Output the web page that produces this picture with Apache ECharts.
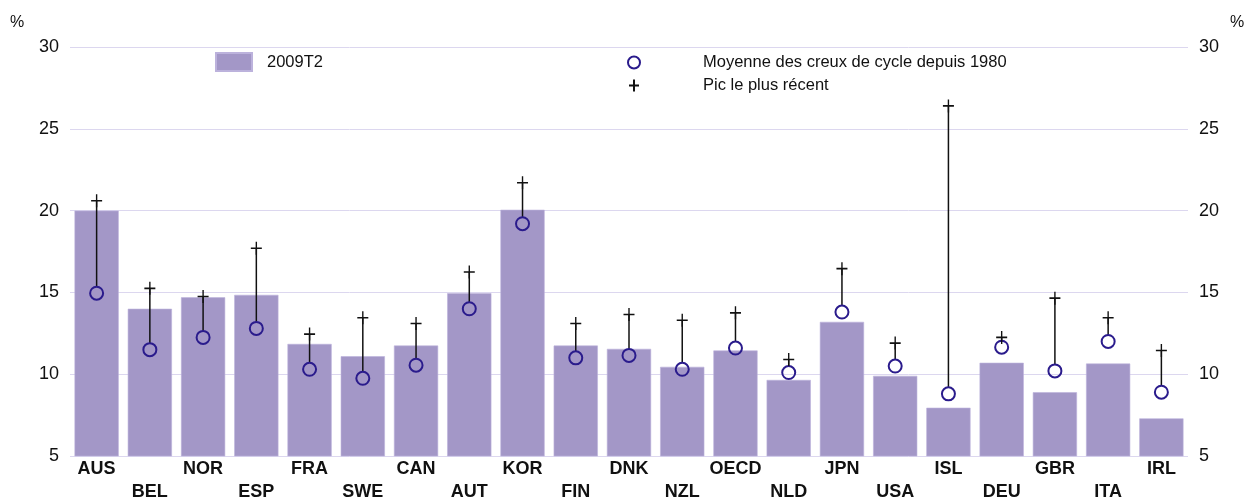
<!DOCTYPE html>
<html>
<head>
<meta charset="utf-8">
<script src="https://cdn.jsdelivr.net/npm/echarts@6/dist/echarts.min.js"></script>
<style>
  html, body { margin: 0; padding: 0; background: #fff; }
  #chart { width: 1250px; height: 499px; }
</style>
</head>
<body>
<div id="chart"></div>
<script>
var countries = ['AUS', 'BEL', 'NOR', 'ESP', 'FRA', 'SWE', 'CAN', 'AUT', 'KOR', 'FIN', 'DNK',
  'NZL', 'OECD', 'NLD', 'JPN', 'USA', 'ISL', 'DEU', 'GBR', 'ITA', 'IRL'];
// 2009T2
var current = [20.0, 14.0, 14.7, 14.85, 11.85, 11.1, 11.75, 14.95, 20.05, 11.75, 11.55,
  10.45, 11.45, 9.65, 13.2, 9.9, 7.95, 10.7, 8.9, 10.65, 7.3];
// moyenne des creux
var troughs = [14.95, 11.5, 12.25, 12.8, 10.3, 9.75, 10.55, 14.0, 19.2, 11.0, 11.15,
  10.3, 11.6, 10.1, 13.8, 10.5, 8.8, 11.65, 10.2, 12.0, 8.9];
// pic le plus récent
var peaks = [20.6, 15.25, 14.75, 17.7, 12.45, 13.45, 13.1, 16.25, 21.7, 13.1, 13.65,
  13.3, 13.75, 10.9, 16.45, 11.9, 26.4, 12.25, 14.65, 13.45, 11.45];
var yTicks = [5, 10, 15, 20, 25, 30];

var font = 'Liberation Sans, Arial, Helvetica, sans-serif';
var chart = echarts.init(document.getElementById('chart'));

var rangeData = countries.map(function(c, i) {
  return [i, troughs[i], peaks[i]];
});

var yAxisCommon = {
  type: 'value',
  min: yTicks[0],
  max: yTicks[yTicks.length - 1],
  interval: 5,
  axisLine: { show: false },
  axisTick: { show: false },
  splitLine: { lineStyle: { color: '#dcd7ef', width: 1 } },
  axisLabel: { color: '#111', fontSize: 18, fontFamily: font, margin: 11 }
};

var option = {
  animation: false,
  backgroundColor: '#fff',
  grid: { left: 70, right: 62, top: 47, bottom: 43, outerBoundsMode: 'none', containLabel: false },
  graphic: [
    { type: 'text', left: 10, top: 15, style: { text: '%', fontSize: 16, fontFamily: font, fill: '#111' } },
    { type: 'text', left: 1230, top: 15, style: { text: '%', fontSize: 16, fontFamily: font, fill: '#111' } }
  ],
  legend: [{
    data: ['2009T2'],
    icon: 'rect',
    left: 215,
    top: 52,
    padding: 0,
    itemWidth: 36,
    itemHeight: 18,
    textStyle: { fontSize: 16.5, fontFamily: font, color: '#111', padding: [0, 0, 0, 10] }
  }, {
    data: ['Moyenne des creux de cycle depuis 1980', 'Pic le plus récent'],
    orient: 'vertical',
    left: 627,
    top: 54,
    padding: 0,
    itemGap: 6,
    itemWidth: 16,
    itemHeight: 12,
    textStyle: { fontSize: 16.5, fontFamily: font, color: '#111', padding: [0, 0, 0, 56] }
  }],
  xAxis: {
    type: 'category',
    data: countries,
    axisLine: { show: false },
    axisTick: { show: false },
    axisLabel: {
      interval: 0,
      fontSize: 18,
      fontWeight: 'bold',
      fontFamily: font,
      color: '#111',
      margin: 2,
      lineHeight: 23,
      formatter: function(v, i) {
        return i % 2 === 1 ? '\n' + v : v;
      }
    }
  },
  yAxis: [
    Object.assign({ position: 'left' }, yAxisCommon),
    Object.assign({ position: 'right' }, yAxisCommon, { splitLine: { show: false } })
  ],
  series: [{
    name: '2009T2',
    type: 'bar',
    data: current,
    barCategoryGap: '17%',
    itemStyle: { color: '#a397c7', borderColor: '#bcb2dc', borderWidth: 0.6 },
    z: 1
  }, {
    name: 'range',
    type: 'custom',
    data: rangeData,
    silent: true,
    z: 3,
    renderItem: function(params, api) {
      var lo = api.coord([api.value(0), api.value(1)]);
      var hi = api.coord([api.value(0), api.value(2)]);
      return {
        type: 'line',
        shape: { x1: lo[0], y1: lo[1] - 6.5, x2: hi[0], y2: hi[1] },
        style: { stroke: '#111', lineWidth: 1.5 }
      };
    }
  }, {
    name: 'Moyenne des creux de cycle depuis 1980',
    type: 'scatter',
    data: troughs,
    symbol: 'circle',
    symbolSize: 13,
    itemStyle: { color: 'rgba(0,0,0,0)', borderColor: '#2a1b8c', borderWidth: 2, opacity: 1 },
    z: 4
  }, {
    name: 'Pic le plus récent',
    type: 'scatter',
    data: peaks,
    symbol: 'path://M0,6L10,6M5,0L5,12',
    symbolSize: [11, 13],
    symbolKeepAspect: false,
    itemStyle: { color: 'rgba(0,0,0,0)', borderColor: '#111', borderWidth: 1.5, opacity: 1 },
    z: 5
  }]
};

chart.setOption(option);
</script>
</body>
</html>
